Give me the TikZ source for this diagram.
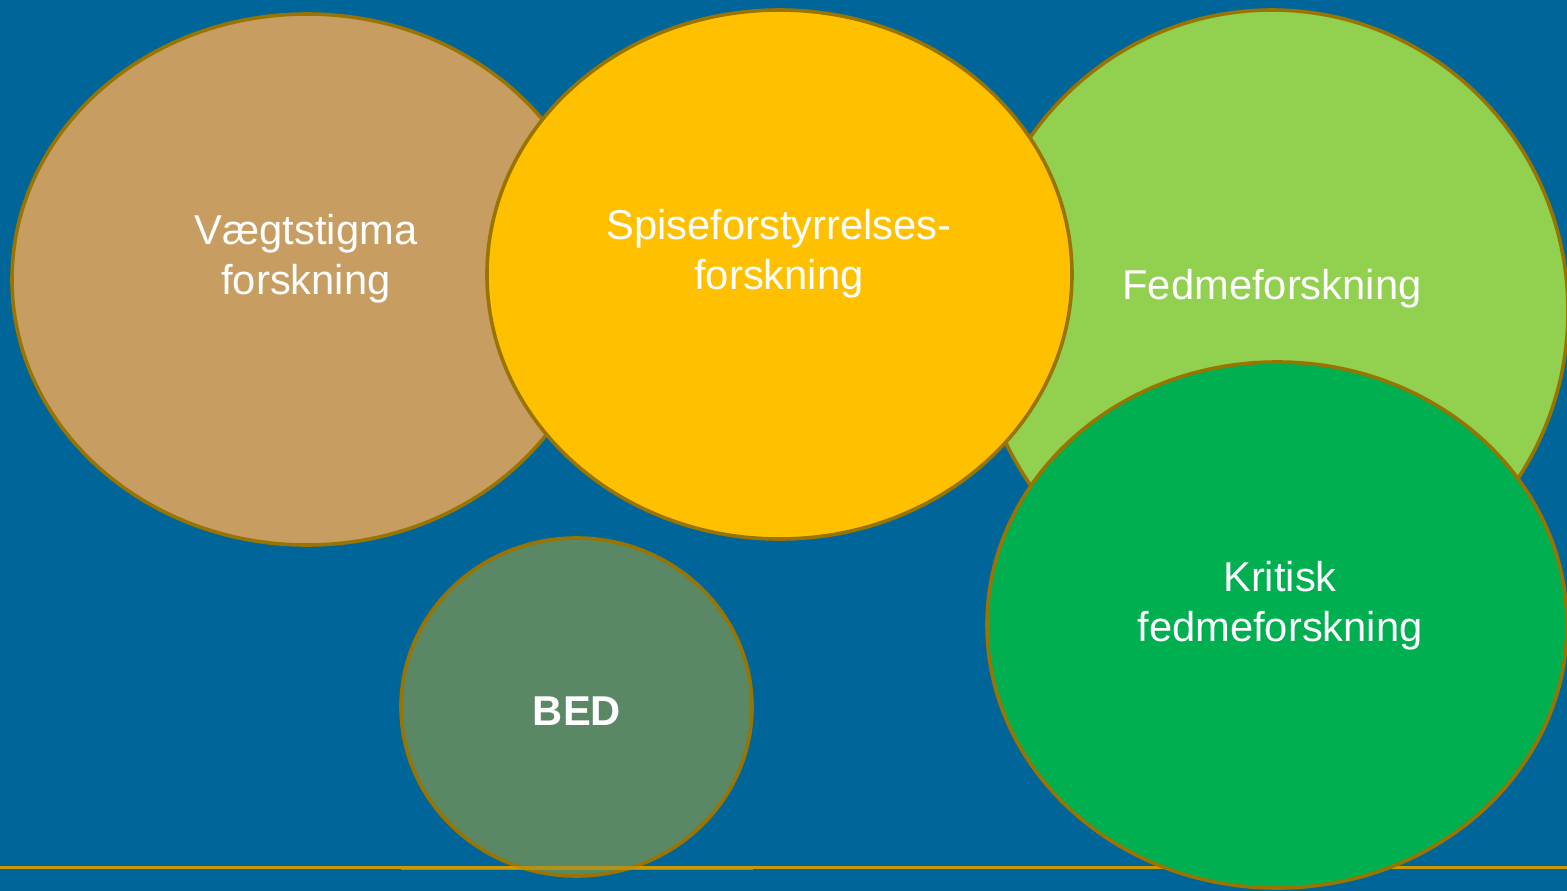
\documentclass[tikz,border=0pt]{standalone}
\usepackage{fontspec}
\setmainfont{Liberation Sans}
\definecolor{bg}{HTML}{006699}
\definecolor{edge}{HTML}{9A7400}
\definecolor{tan}{HTML}{C89D62}
\definecolor{yel}{HTML}{FFC000}
\definecolor{lgreen}{HTML}{92D050}
\definecolor{dgreen}{HTML}{00B050}
\definecolor{bedc}{HTML}{5A8764}
\definecolor{goldline}{HTML}{CC9900}
\tikzset{
  blob/.style={draw=edge, line width=3.6pt},
  lbl/.style={text=white, align=center, font=\fontsize{41.7}{50}\selectfont, inner sep=0pt},
  gline/.style={draw=goldline, line width=3pt}
}
\begin{document}
\begin{tikzpicture}[x=1pt,y=-1pt]
\useasboundingbox (0,0) rectangle (1567,891);
\fill[bg] (0,0) rectangle (1567,891);
\coordinate (la) at (0,867);
\coordinate (lb) at (1567,867);
\draw[gline] (la) -- (lb);
\path[blob, fill=tan] (307,279.5) ellipse [x radius=295pt, y radius=265.5pt];
\path[blob, fill=lgreen] (1272,311) ellipse [x radius=296pt, y radius=301pt];
\path[blob, fill=yel] (779.5,274.5) ellipse [x radius=292.5pt, y radius=264.5pt];
\path[blob, fill=dgreen] (1277,625) ellipse [x radius=290pt, y radius=263pt];
\path[blob, fill=bedc] (576.5,707) ellipse [x radius=175.5pt, y radius=169pt];
\coordinate (sa) at (401,868);
\coordinate (sb) at (753,868);
\draw[draw=goldline, line width=4pt, opacity=0.75] (sa) -- (sb);
\node[lbl] (v) at (306,259) {Vægtstigma\\forskning};
\node[lbl] (s) at (779,254) {Spiseforstyrrelses-\\forskning};
\node[lbl] (f) at (1272,289) {Fedmeforskning};
\node[lbl] (k) at (1280,606) {Kritisk\\fedmeforskning};
\node[lbl, font=\fontsize{41.7}{50}\selectfont\bfseries] (b) at (577,711) {BED};
\end{tikzpicture}
\end{document}
